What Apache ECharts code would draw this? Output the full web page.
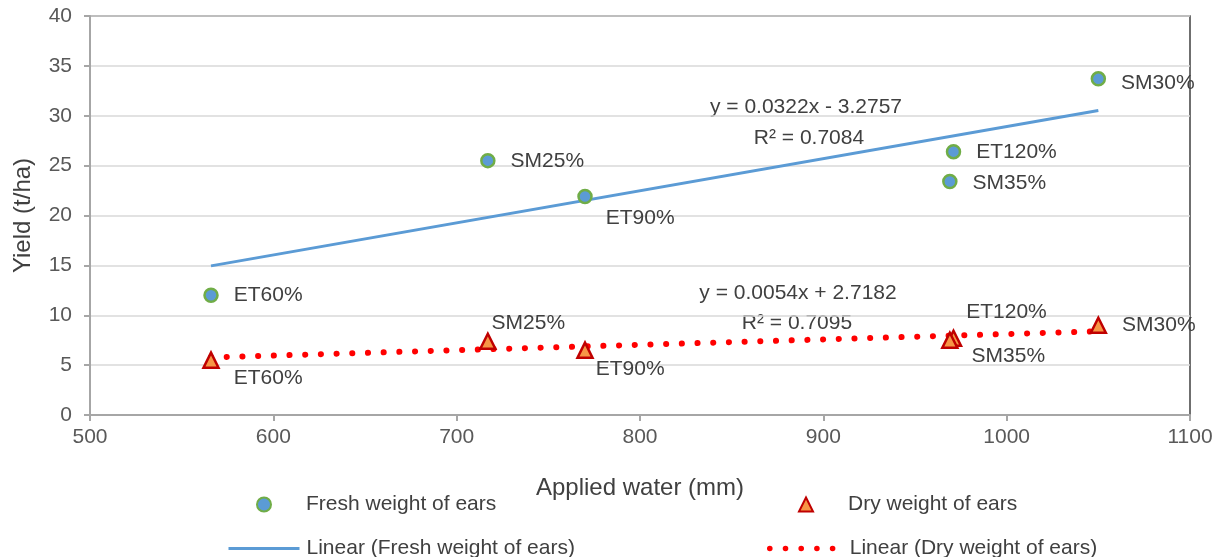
<!DOCTYPE html>
<html>
<head>
<meta charset="utf-8">
<script src="https://cdn.jsdelivr.net/npm/echarts@6/dist/echarts.min.js"></script>
<style>html,body{margin:0;padding:0;background:#fff}#c{width:1231px;height:557px}</style>
</head>
<body>
<div id="c"></div>
<script>
// ---- data ----
const treatments = ['ET60%', 'SM25%', 'ET90%', 'ET120%', 'SM35%', 'SM30%'];
const appliedWater = [566, 717, 770, 971, 969, 1050];
const freshWeight = [12.0, 25.5, 21.9, 26.4, 23.4, 33.7];
const dryWeight = [5.5, 7.4, 6.5, 7.7, 7.5, 9.0];
const freshTrend = { slope: 0.0322, intercept: -3.2757, r2: '0.7084' };
const dryTrend = { slope: 0.0054, intercept: 2.7182, r2: '0.7095' };
const xTicks = { min: 500, max: 1100, interval: 100 };
const yTicks = { min: 0, max: 40, interval: 5 };

// label offsets (styling)
const freshLabelOffset = [[0,0],[0,1],[-2,22],[0,1],[0,2],[0,4]];
const dryLabelOffset = [[-1,18],[-20,-18],[-13,19],[-11,-26],[-2,16],[0,0]];

const FONT = 'Liberation Sans';
const TXT = '#404040';
const FS = 21;

function trendLine(t) {
  const xmin = Math.min(...appliedWater), xmax = Math.max(...appliedWater);
  return [[xmin, t.slope * xmin + t.intercept], [xmax, t.slope * xmax + t.intercept]];
}
function fmtEq(t) {
  const sign = t.intercept < 0 ? ' - ' : ' + ';
  return 'y = ' + t.slope.toFixed(4) + 'x' + sign + Math.abs(t.intercept).toFixed(4);
}
function pts(vals, offs) {
  return vals.map((v, i) => ({
    value: [appliedWater[i], v],
    name: treatments[i],
    label: { offset: offs[i] }
  }));
}

const chart = echarts.init(document.getElementById('c'));
const labelBase = {
  show: true, position: 'right', distance: 15,
  formatter: p => p.name, color: TXT, fontFamily: FONT, fontSize: FS
};
function legend(name, left, top, w, h, pad, lineW) {
  const l = {
    data: [name], left: left, top: top, itemWidth: w, itemHeight: h, padding: 0,
    selectedMode: false,
    textStyle: { color: TXT, fontFamily: FONT, fontSize: FS, padding: [0, 0, 0, pad] }
  };
  if (lineW) {
    l.lineStyle = { width: lineW };
    l.itemStyle = { opacity: 0 };
  }
  return l;
}
const eqFont = FS + 'px "Liberation Sans"';

chart.setOption({
  animation: false,
  backgroundColor: '#fff',
  grid: { left: 90, right: 41, top: 16, bottom: 142, show: true, borderColor: '#404040', borderWidth: 1.5, backgroundColor: 'transparent' },
  xAxis: {
    type: 'value', min: xTicks.min, max: xTicks.max, interval: xTicks.interval,
    name: 'Applied water (mm)', nameLocation: 'middle', nameGap: 61,
    nameTextStyle: { color: TXT, fontFamily: FONT, fontSize: 24 },
    axisLine: { show: true, lineStyle: { color: '#A6A6A6', width: 2 } },
    axisTick: { show: true, length: 6, lineStyle: { color: '#A6A6A6', width: 2 } },
    axisLabel: { color: '#595959', fontFamily: FONT, fontSize: FS, margin: 12, formatter: v => String(v) },
    splitLine: { show: false }
  },
  yAxis: {
    type: 'value', min: yTicks.min, max: yTicks.max, interval: yTicks.interval,
    name: 'Yield (t/ha)', nameLocation: 'middle', nameGap: 55,
    nameTextStyle: { color: TXT, fontFamily: FONT, fontSize: 24 },
    axisLine: { show: true, lineStyle: { color: '#A6A6A6', width: 2 } },
    axisTick: { show: true, length: 6, lineStyle: { color: '#A6A6A6', width: 2 } },
    axisLabel: { color: '#595959', fontFamily: FONT, fontSize: FS, margin: 18, formatter: v => String(v) },
    splitLine: { show: true, lineStyle: { color: '#D9D9D9', width: 1.5 } }
  },
  legend: [
    legend('Fresh weight of ears', 256, 494, 14, 14, 30),
    legend('Dry weight of ears', 798, 494, 14, 14, 30),
    legend('Linear (Fresh weight of ears)', 227, 538, 71, 14, 2, 3),
    legend('Linear (Dry weight of ears)', 767, 538, 71, 14, 4, 5.5)
  ],
  series: [
    {
      name: 'Linear (Fresh weight of ears)', type: 'line', data: trendLine(freshTrend),
      symbol: 'none', z: 2,
      lineStyle: { color: '#5B9BD5', width: 3 }, itemStyle: { color: '#5B9BD5' }
    },
    {
      name: 'Linear (Dry weight of ears)', type: 'line', data: trendLine(dryTrend),
      symbol: 'none', z: 2,
      lineStyle: { color: '#FF0000', width: 6, type: [0.1, 15.6], cap: 'round' }, itemStyle: { color: '#FF0000' }
    },
    {
      name: 'Fresh weight of ears', type: 'scatter', data: pts(freshWeight, freshLabelOffset),
      symbol: 'circle', symbolSize: 13, z: 3,
      itemStyle: { color: '#5B9BD5', borderColor: '#70AD47', borderWidth: 2.5, opacity: 1 },
      label: labelBase
    },
    {
      name: 'Dry weight of ears', type: 'scatter', data: pts(dryWeight, dryLabelOffset),
      symbol: 'triangle', symbolSize: 15, z: 3,
      itemStyle: { color: '#F79646', borderColor: '#C00000', borderWidth: 2.5, opacity: 1 },
      label: labelBase
    }
  ],
  graphic: [
    { type: 'text', x: 806, y: 107, style: { text: fmtEq(freshTrend), fill: TXT, font: eqFont, align: 'center', verticalAlign: 'middle' } },
    { type: 'text', x: 809, y: 138, style: { text: 'R² = ' + freshTrend.r2, fill: TXT, font: eqFont, align: 'center', verticalAlign: 'middle' } },
    { type: 'text', x: 798, y: 293, style: { text: fmtEq(dryTrend), fill: TXT, font: eqFont, align: 'center', verticalAlign: 'middle' } },
    { type: 'text', x: 797, y: 323, style: { text: 'R² = ' + dryTrend.r2, fill: TXT, font: eqFont, align: 'center', verticalAlign: 'middle' } }
  ]
});
</script>
</body>
</html>
